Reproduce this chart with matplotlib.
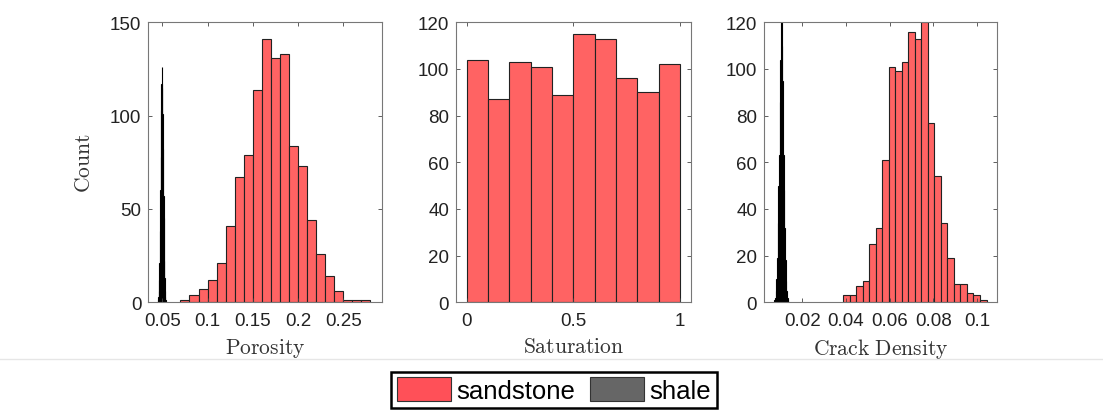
import numpy as np
import matplotlib
matplotlib.use('Agg')
import matplotlib.pyplot as plt
from matplotlib.patches import Patch
from matplotlib.lines import Line2D

plt.rcParams['mathtext.fontset'] = 'cm'
plt.rcParams['font.family'] = ['Liberation Sans', 'DejaVu Sans']

# porosity histogram (bin width 0.01 starting at 0.07)
poro_sand_start = 0.07
poro_sand_width = 0.01
poro_sand_counts = [1, 4, 7, 12, 21, 41, 67, 79, 114, 141, 131, 133, 84, 73, 44, 26, 14, 6, 1, 1, 1]
poro_shale_start = 0.0452
poro_shale_width = 0.00041
poro_shale_counts = [1, 3, 6, 12, 21, 38, 60, 78, 103, 117, 126, 115, 101, 82, 57, 45, 22, 13, 6, 3, 1]

# saturation histogram (sandstone only)
sat_start = 0.0
sat_width = 0.1
sat_counts = [104, 87, 103, 101, 89, 115, 113, 96, 90, 102]

# crack density histogram
crack_sand_start = 0.0388
crack_sand_width = 0.00298
crack_sand_counts = [3, 3, 7, 9, 25, 32, 61, 101, 99, 103, 116, 113, 120, 77, 54, 34, 19, 8, 8, 4, 3, 1]
crack_shale_start = 0.00715
crack_shale_width = 0.00031
crack_shale_counts = [1, 2, 5, 10, 19, 34, 50, 63, 86, 104, 120, 110, 95, 63, 48, 32, 18, 9, 5, 2, 1]

sand_color = '#ff6363'
shale_color = '#666666'

W, H = 1103, 414
fig = plt.figure(figsize=(W / 100, H / 100), dpi=100)

def add_axes(left_px, right_px):
    top_px, bot_px = 23.3, 303.3
    return fig.add_axes([left_px / W, 1 - bot_px / H, (right_px - left_px) / W, (bot_px - top_px) / H])

def draw_hist(ax, start, width, counts, face, edge):
    counts = np.array(counts)
    lefts = start + width * np.arange(len(counts))
    ax.bar(lefts, counts, width=width, align='edge', color=face, edgecolor=edge, linewidth=0.8)

def style(ax, xlim, ylim, xticks, xticklabels, yticks, xlabel):
    ax.set_xlim(xlim)
    ax.set_ylim(ylim)
    ax.set_xticks(xticks)
    ax.set_xticklabels(xticklabels)
    ax.set_yticks(yticks)
    ax.tick_params(direction='in', top=True, right=True, length=3, width=0.6,
                   color='#444444', labelsize=13.5, labelcolor='#222222', pad=5)
    ax.tick_params(axis='x', pad=7)
    for s in ax.spines.values():
        s.set_color('#777777')
        s.set_linewidth(0.8)
    ax.set_xlabel(r'$\mathrm{' + xlabel + '}$', fontsize=15.5, color='#333333')
    ax.xaxis.set_label_coords(0.5, -0.12)

ax1 = add_axes(148.3, 382.0)
draw_hist(ax1, poro_shale_start, poro_shale_width, poro_shale_counts, shale_color, 'black')
draw_hist(ax1, poro_sand_start, poro_sand_width, poro_sand_counts, sand_color, '#222222')
style(ax1, (0.0345, 0.2928), (0, 150), [0.05, 0.1, 0.15, 0.2, 0.25],
      ['0.05', '0.1', '0.15', '0.2', '0.25'], [0, 50, 100, 150], 'Porosity')
ax1.set_ylabel(r'$\mathrm{Count}$', fontsize=15.5, color='#333333')
ax1.yaxis.set_label_coords(-0.228, 0.5)

ax2 = add_axes(456.0, 690.7)
draw_hist(ax2, sat_start, sat_width, sat_counts, sand_color, '#222222')
style(ax2, (-0.05, 1.05), (0, 120), [0, 0.5, 1], ['0', '0.5', '1'],
      [0, 20, 40, 60, 80, 100, 120], 'Saturation')

ax3 = add_axes(764.0, 997.3)
draw_hist(ax3, crack_shale_start, crack_shale_width, crack_shale_counts, shale_color, 'black')
draw_hist(ax3, crack_sand_start, crack_sand_width, crack_sand_counts, sand_color, '#222222')
style(ax3, (0.0025, 0.1093), (0, 120), [0.02, 0.04, 0.06, 0.08, 0.1],
      ['0.02', '0.04', '0.06', '0.08', '0.1'], [0, 20, 40, 60, 80, 100, 120], r'Crack\ Density')

# faint separator line above the legend
fig.add_artist(Line2D([0, 1], [1 - 360 / H, 1 - 360 / H], transform=fig.transFigure,
                      color='#e6e6e6', linewidth=1))

handles = [Patch(facecolor='#ff5058', edgecolor='#333333', linewidth=0.8),
           Patch(facecolor=shale_color, edgecolor='#333333', linewidth=0.8)]
leg = fig.legend(handles, ['sandstone', 'shale'], loc='center', bbox_to_anchor=(554 / W, 1 - 391 / H),
                 ncol=2, fancybox=False, framealpha=1, edgecolor='black',
                 prop={'family': 'Liberation Sans', 'size': 18.5},
                 handlelength=2.1, handleheight=1.05, handletextpad=0.2, columnspacing=0.6,
                 borderpad=0.22, borderaxespad=0)
leg.get_frame().set_linewidth(1.8)

fig.savefig('out.png', dpi=100)
